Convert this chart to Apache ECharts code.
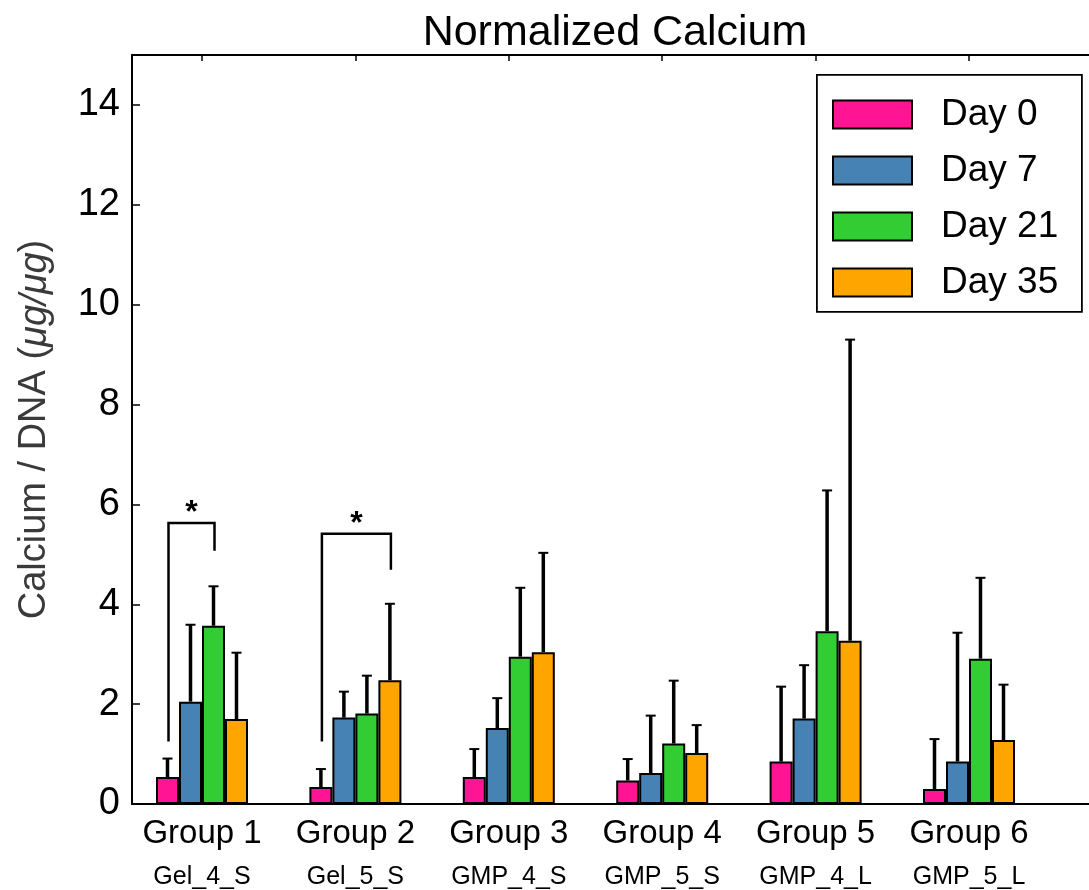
<!DOCTYPE html>
<html>
<head>
<meta charset="utf-8">
<script src="https://cdn.jsdelivr.net/npm/echarts@6/dist/echarts.min.js"></script>
<style>
  html, body { margin: 0; padding: 0; background: #fff; }
  #chart { width: 1089px; height: 890px; }
</style>
</head>
<body>
<div id="chart"></div>
<script>
// ---- data ----
const groups = ['Group 1', 'Group 2', 'Group 3', 'Group 4', 'Group 5', 'Group 6'];
const samples = ['Gel_4_S', 'Gel_5_S', 'GMP_4_S', 'GMP_5_S', 'GMP_4_L', 'GMP_5_L'];
const days = ['Day 0', 'Day 7', 'Day 21', 'Day 35'];

// mean Calcium / DNA per group
const day0Mean  = [0.54, 0.34, 0.54, 0.47, 0.85, 0.30];
const day7Mean  = [2.05, 1.73, 1.52, 0.62, 1.71, 0.85];
const day21Mean = [3.57, 1.81, 2.95, 1.21, 3.46, 2.91];
const day35Mean = [1.70, 2.48, 3.04, 1.02, 3.27, 1.28];

// standard deviation per group (drawn upward only)
const day0Sd  = [0.37, 0.36, 0.56, 0.43, 1.50, 1.00];
const day7Sd  = [1.54, 0.52, 0.60, 1.15, 1.07, 2.58];
const day21Sd = [0.79, 0.76, 1.38, 1.26, 2.82, 1.62];
const day35Sd = [1.33, 1.53, 1.99, 0.56, 6.03, 1.11];

const yTicks = [0, 2, 4, 6, 8, 10, 12, 14];

// significance: group index, first day index, second day index,
// bracket top, left foot, right foot (all in Calcium / DNA units)
const significance = [
  [0, 0, 2, 5.63, 1.25, 5.07],
  [1, 0, 3, 5.41, 1.25, 4.69]
];

// ---- styling ----
const colors = ['#FF1493', '#4682B4', '#32CD32', '#FFA500'];
const FONT = "'Liberation Sans', Arial, Helvetica, sans-serif";
const BAR_W = 23;           // px per bar
const GROUP_PX = 153.4;     // px between group centres
const GRID_LEFT = 132;
const FIRST_CENTER = 202;
const X_MIN = 1 - (FIRST_CENTER - GRID_LEFT) / GROUP_PX;
const X_MAX = 7;

const means = [day0Mean, day7Mean, day21Mean, day35Mean];
const sds = [day0Sd, day7Sd, day21Sd, day35Sd];

const barSeries = days.map((d, k) => ({
  name: d,
  type: 'bar',
  xAxisIndex: 0,
  barWidth: BAR_W,
  barGap: '0%',
  itemStyle: { color: colors[k], borderColor: '#000', borderWidth: 2 },
  emphasis: { disabled: true },
  data: means[k].map((v, i) => [i + 1, v])
}));

const errData = [];
means.forEach((arr, k) => arr.forEach((v, i) => errData.push([i + 1, v, v + sds[k][i], k])));

const errSeries = {
  type: 'custom',
  xAxisIndex: 0,
  z: 5,
  silent: true,
  data: errData,
  renderItem: (params, api) => {
    const k = api.value(3);
    const base = api.coord([api.value(0), api.value(1)]);
    const top = api.coord([api.value(0), api.value(2)]);
    const cx = base[0] + (k - 1.5) * BAR_W;
    return {
      type: 'group',
      children: [
        { type: 'line', shape: { x1: cx, y1: base[1], x2: cx, y2: top[1] },
          style: { stroke: '#000', lineWidth: 3.5 } },
        { type: 'line', shape: { x1: cx - 5, y1: top[1], x2: cx + 5, y2: top[1] },
          style: { stroke: '#000', lineWidth: 2 } }
      ]
    };
  }
};

const sigSeries = {
  type: 'custom',
  xAxisIndex: 0,
  z: 6,
  silent: true,
  data: significance.map(s => [s[0] + 1, s[1], s[2], s[3], s[4], s[5]]),
  renderItem: (params, api) => {
    const gx = api.value(0);
    const xl = api.coord([gx, 0])[0] + (api.value(1) - 1.5) * BAR_W + 1;
    const xr = api.coord([gx, 0])[0] + (api.value(2) - 1.5) * BAR_W + 1;
    const yt = api.coord([gx, api.value(3)])[1];
    const yl = api.coord([gx, api.value(4)])[1];
    const yr = api.coord([gx, api.value(5)])[1];
    return {
      type: 'group',
      children: [
        { type: 'polyline', shape: { points: [[xl, yl], [xl, yt], [xr, yt], [xr, yr]] },
          style: { stroke: '#000', lineWidth: 2.5, fill: null } },
        { type: 'text', x: (xl + xr) / 2, y: yt - 10,
          style: { text: '*', fontSize: 32, fontWeight: 'bold', fontFamily: FONT, fill: '#000',
                   align: 'center', verticalAlign: 'middle' } }
      ]
    };
  }
};

const chart = echarts.init(document.getElementById('chart'), null, { renderer: 'canvas' });

chart.setOption({
  animation: false,
  backgroundColor: '#fff',
  textStyle: { fontFamily: FONT },
  grid: {
    left: GRID_LEFT, top: 55, height: 749,
    width: (X_MAX - X_MIN) * GROUP_PX,
    containLabel: false,
    outerBoundsMode: 'none'
  },
  graphic: [
    { type: 'text', x: 615, y: 33, z: 10,
      style: { text: 'Normalized Calcium', fontSize: 43, fontFamily: FONT, fill: '#000',
               align: 'center', verticalAlign: 'middle' } },
    { type: 'rect', left: 816, top: 74, z: 1,
      shape: { width: 265, height: 237 },
      style: { fill: '#fff', stroke: '#000', lineWidth: 1.8 } }
  ],
  legend: {
    orient: 'vertical',
    left: 832, top: 96,
    padding: 0,
    icon: 'rect',
    itemWidth: 79, itemHeight: 28, itemGap: 19,
    selectedMode: false,
    z: 5,
    itemStyle: { borderWidth: 2 },
    textStyle: { fontSize: 37, lineHeight: 28, color: '#000', fontFamily: FONT,
                 padding: [0, 0, 0, 24] },
    data: days
  },
  xAxis: [
    {
      type: 'value', position: 'bottom',
      min: X_MIN, max: X_MAX, minInterval: 1, maxInterval: 1,
      splitLine: { show: false },
      axisTick: { show: false },
      axisLine: { onZero: false, lineStyle: { color: '#000', width: 2 } },
      axisLabel: {
        margin: 8,
        showMinLabel: false, showMaxLabel: false,
        formatter: v => {
          const i = Math.round(v) - 1;
          if (Math.abs(v - Math.round(v)) > 1e-6 || i < 0 || i >= groups.length) return '';
          return '{g|' + groups[i] + '}\n{s|' + samples[i] + '}';
        },
        rich: {
          g: { fontSize: 33, lineHeight: 44, color: '#000', fontFamily: FONT },
          s: { fontSize: 25, lineHeight: 42, color: '#000', fontFamily: FONT }
        }
      }
    },
    {
      type: 'value', position: 'top',
      min: X_MIN, max: X_MAX, minInterval: 1, maxInterval: 1,
      splitLine: { show: false },
      axisLabel: { show: false },
      axisTick: { inside: true, length: 6, lineStyle: { color: '#000', width: 1.5 } },
      axisLine: { onZero: false, lineStyle: { color: '#000', width: 2 } }
    }
  ],
  yAxis: {
    type: 'value', min: 0, max: 15, interval: 2,
    splitLine: { show: false },
    axisLine: { show: true, onZero: false, lineStyle: { color: '#000', width: 2 } },
    axisTick: { inside: true, length: 8, lineStyle: { color: '#000', width: 1.5 } },
    axisLabel: {
      fontSize: 38, color: '#000', margin: 12, fontFamily: FONT,
      showMaxLabel: false,
      formatter: v => (yTicks.indexOf(v) >= 0 ? String(v) : '')
    },
    name: '{n|Calcium / DNA (}{i|μg/μg}{n|)}',
    nameLocation: 'middle',
    nameRotate: 90,
    nameGap: 78,
    nameTextStyle: {
      rich: {
        n: { fontSize: 38, color: '#3a3a3a', fontFamily: FONT },
        i: { fontSize: 38, color: '#3a3a3a', fontFamily: FONT, fontStyle: 'italic' }
      }
    }
  },
  series: [...barSeries, errSeries, sigSeries]
});
</script>
</body>
</html>
